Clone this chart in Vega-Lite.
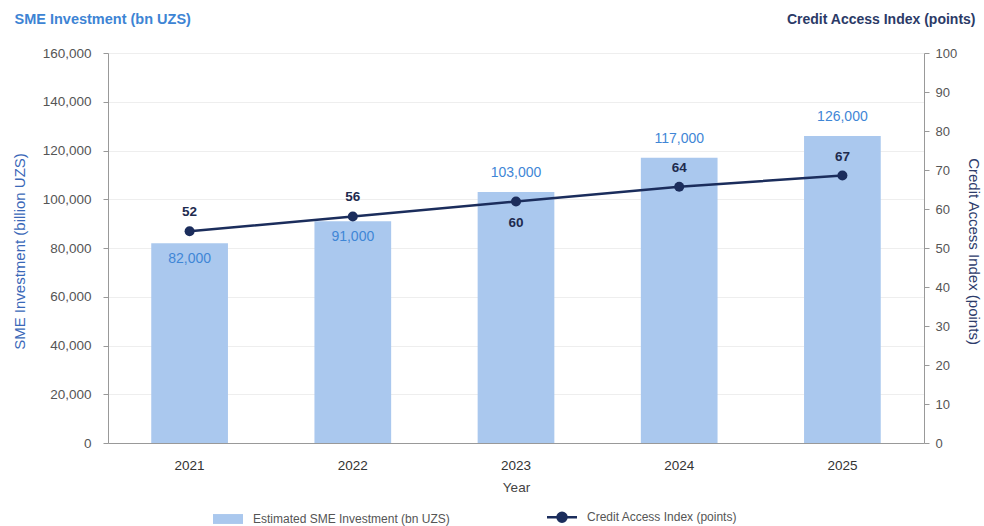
{
  "$schema": "https://vega.github.io/schema/vega-lite/v6.json",
  "width": 816,
  "height": 390,
  "autosize": {"type": "none"},
  "padding": {"left": 108, "top": 53, "right": 60, "bottom": 83},
  "background": "white",
  "config": {
    "font": "Liberation Sans",
    "view": {"stroke": null},
    "axis": {"labelFont": "Liberation Sans", "titleFont": "Liberation Sans", "labelColor": "#555555", "labelFontSize": 13.5, "titleFontSize": 15, "titleFontWeight": "normal"}
  },
  "data": {
    "values": [
      {"Year": 2021, "SME": 82000, "Index": 52},
      {"Year": 2022, "SME": 91000, "Index": 56},
      {"Year": 2023, "SME": 103000, "Index": 60},
      {"Year": 2024, "SME": 117000, "Index": 64},
      {"Year": 2025, "SME": 126000, "Index": 67}
    ]
  },
  "layer": [
    {
      "encoding": {
        "x": {
          "field": "Year", "type": "ordinal",
          "scale": {"paddingInner": 0, "paddingOuter": 0},
          "axis": {"orient": "bottom", "title": "Year", "labelAngle": 0, "ticks": false, "domainColor": "#999999", "labelPadding": 15, "labelColor": "#333333", "titleColor": "#444444", "titleFontSize": 13.5, "titlePadding": 9}
        },
        "y": {
          "field": "SME", "type": "quantitative",
          "scale": {"domain": [0, 160000]},
          "axis": {"orient": "left", "values": [0, 20000, 40000, 60000, 80000, 100000, 120000, 140000, 160000], "format": ",.0f", "title": "SME Investment (billion UZS)", "titleColor": "#3a68b8", "titleX": -89, "titleY": 198, "titleBaseline": "middle", "titleAlign": "center", "gridColor": "#eeeeee", "domainColor": "#999999", "tickColor": "#999999", "tickSize": 5, "labelPadding": 12}
        }
      },
      "layer": [
        {
          "mark": {"type": "bar", "width": {"band": 0.47}},
          "encoding": {
            "color": {
              "datum": "Estimated SME Investment (bn UZS)", "type": "nominal",
              "scale": {"domain": ["Estimated SME Investment (bn UZS)", "Credit Access Index (points)"], "range": ["#aac8ee", "#1b2d5c"]},
              "legend": {
                "orient": "none", "legendX": 114, "legendY": 458, "direction": "horizontal", "title": null,
                "symbolSize": 900, "labelFont": "Liberation Sans", "labelFontSize": 12, "labelColor": "#555555", "labelLimit": 400, "columnPadding": 92, "labelOffset": 19,
                "encode": {
                  "symbols": {
                    "update": {
                      "shape": {"signal": "datum.value === 'Credit Access Index (points)' ? 'M-1,0H1M0.3,0A0.3,0.3,0,1,1,-0.3,0A0.3,0.3,0,1,1,0.3,0Z' : 'M-1,-0.33H1V0.33H-1Z'"},
                      "fill": {"signal": "datum.value === 'Credit Access Index (points)' ? '#1b2d5c' : '#aac8ee'"},
                      "stroke": {"signal": "datum.value === 'Credit Access Index (points)' ? '#1b2d5c' : '#aac8ee'"},
                      "strokeWidth": {"signal": "datum.value === 'Credit Access Index (points)' ? 2.5 : 0"},
                      "opacity": {"value": 1},
                      "fillOpacity": {"value": 1}
                    }
                  }
                }
              }
            }
          }
        },
        {
          "transform": [{"filter": "datum.Year >= 2023"}],
          "mark": {"type": "text", "dy": -19, "baseline": "middle", "color": "#3f86d6", "fontSize": 14},
          "encoding": {"text": {"field": "SME", "type": "quantitative", "format": ",.0f"}}
        },
        {
          "transform": [{"filter": "datum.Year < 2023"}],
          "mark": {"type": "text", "dy": 16, "baseline": "middle", "color": "#3f86d6", "fontSize": 14},
          "encoding": {"text": {"field": "SME", "type": "quantitative", "format": ",.0f"}}
        }
      ]
    },
    {
      "mark": {"type": "point", "opacity": 0},
      "encoding": {
        "x": {
          "field": "Year", "type": "ordinal",
          "axis": {"orient": "top", "labels": false, "ticks": false, "domain": false, "grid": false, "title": "SME Investment (bn UZS)", "titleAngle": 0, "titleAlign": "left", "titleBaseline": "alphabetic", "titleX": -94, "titleY": -30, "titleColor": "#3d84d4", "titleFontWeight": "bold", "titleFontSize": 14.5}
        },
        "y": {
          "field": "Index", "type": "quantitative",
          "scale": {"domain": [0, 100]},
          "axis": {"orient": "right", "values": [0, 10, 20, 30, 40, 50, 60, 70, 80, 90, 100], "grid": false, "title": "Credit Access Index (points)", "titleColor": "#2e3c6b", "titleX": 49, "titleY": 198, "titleAngle": 90, "titleBaseline": "middle", "titleAlign": "center", "domainColor": "#999999", "tickColor": "#999999", "tickSize": 5, "labelPadding": 6, "labelFontSize": 13}
        }
      }
    },
    {
      "encoding": {
        "x": {
          "field": "Year", "type": "ordinal",
          "axis": {"orient": "top", "labels": false, "ticks": false, "domain": false, "grid": false, "title": "Credit Access Index (points)", "titleAngle": 0, "titleAlign": "right", "titleBaseline": "alphabetic", "titleX": 867, "titleY": -30, "titleColor": "#2b3a67", "titleFontWeight": "bold", "titleFontSize": 14}
        },
        "y": {"field": "Index", "type": "quantitative", "scale": {"domain": [-5, 100]}, "axis": null}
      },
      "layer": [
        {
          "mark": {"type": "line", "strokeWidth": 2.5},
          "encoding": {"color": {"datum": "Credit Access Index (points)", "type": "nominal"}}
        },
        {
          "mark": {"type": "point", "filled": true, "size": 100, "color": "#1b2d5c", "opacity": 1}
        },
        {
          "transform": [{"filter": "datum.Year != 2023"}],
          "mark": {"type": "text", "dy": -19, "baseline": "middle", "color": "#1e2b4f", "fontSize": 13.5, "fontWeight": "bold"},
          "encoding": {"text": {"field": "Index", "type": "quantitative"}}
        },
        {
          "transform": [{"filter": "datum.Year == 2023"}],
          "mark": {"type": "text", "dy": 21, "baseline": "middle", "color": "#1e2b4f", "fontSize": 13.5, "fontWeight": "bold"},
          "encoding": {"text": {"field": "Index", "type": "quantitative"}}
        }
      ]
    }
  ],
  "resolve": {"scale": {"y": "independent"}, "axis": {"x": "independent"}}
}
